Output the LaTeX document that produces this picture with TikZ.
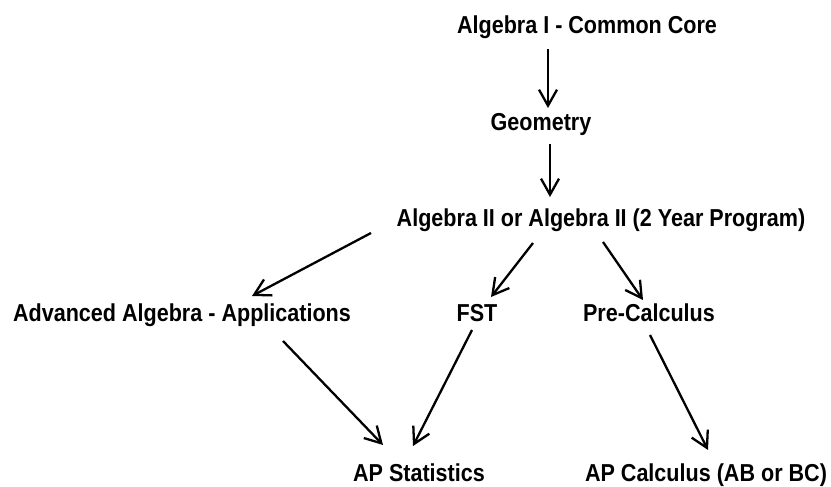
\documentclass[tikz,border=0pt]{standalone}
\usepackage{fontspec}
\setmainfont{Liberation Sans}[FakeStretch=0.88]
\usetikzlibrary{arrows.meta}

\tikzset{
    course/.style={anchor=base, inner sep=0pt, font=\fontsize{24.5}{27}\selectfont\bfseries},
    path arrow/.style={line width=2.3pt, -{Straight Barb[length=16pt, width=18pt, line width=2.3pt]}}
}

\begin{document}
\begin{tikzpicture}[x=1pt, y=-1pt]
    \useasboundingbox (0,0) rectangle (831,487);

    \node[course] (alg1) at (587,34) {Algebra I - Common Core};
    \node[course] (geo) at (541,131) {Geometry};
    \node[course] (alg2) at (601,226) {Algebra II or Algebra II (2 Year Program)};
    \node[course] (advalg) at (182,321) {Advanced Algebra - Applications};
    \node[course] (fst) at (477,321) {FST};
    \node[course] (precalc) at (649,321) {Pre-Calculus};
    \node[course] (apstat) at (419,481) {AP Statistics};
    \node[course] (apcalc) at (706,481) {AP Calculus (AB or BC)};

    \draw[path arrow] ([shift={(-39,15)}]alg1.base) -- ([shift={(7,-23)}]geo.base);
    \draw[path arrow] ([shift={(9,13)}]geo.base) -- ([shift={(-51,-29)}]alg2.base);

    \draw[path arrow] ([shift={(-230,7)}]alg2.base) -- ([shift={(70,-25)}]advalg.base);
    \draw[path arrow] ([shift={(-68,17)}]alg2.base) -- ([shift={(14,-24)}]fst.base);
    \draw[path arrow] ([shift={(2,16)}]alg2.base) -- ([shift={(-6,-21)}]precalc.base);

    \draw[path arrow] ([shift={(101,20)}]advalg.base) -- ([shift={(-36,-36)}]apstat.base);
    \draw[path arrow] ([shift={(-5,9)}]fst.base) -- ([shift={(-6,-35)}]apstat.base);
    \draw[path arrow] ([shift={(1,14)}]precalc.base) -- ([shift={(2,-31)}]apcalc.base);
\end{tikzpicture}
\end{document}
